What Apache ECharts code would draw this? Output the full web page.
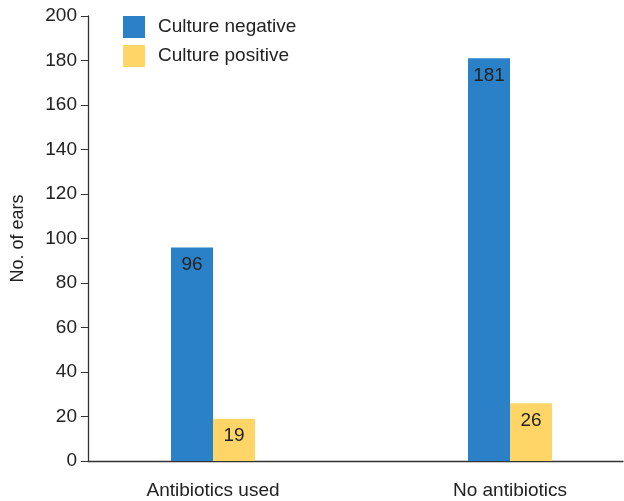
<!DOCTYPE html>
<html>
<head>
<meta charset="utf-8">
<script src="https://cdn.jsdelivr.net/npm/echarts@6/dist/echarts.min.js"></script>
<style>
  html, body { margin: 0; padding: 0; background: #fff; }
  #chart { width: 624px; height: 501px; }
</style>
</head>
<body>
<div id="chart"></div>
<script>
var categories = ["Antibiotics used", "No antibiotics"];
var cultureNegative = [96, 181];
var culturePositive = [19, 26];
var yTicks = [0, 20, 40, 60, 80, 100, 120, 140, 160, 180, 200];

(function drawChart() {
  var chart = echarts.init(document.getElementById("chart"));
  var font = "Liberation Sans, Arial, sans-serif";
  var ink = "#222";

  function barSeries(name, values, color) {
    return {
      name: name,
      type: "bar",
      xAxisIndex: 1,
      yAxisIndex: 1,
      data: values,
      barWidth: 42,
      barGap: "0%",
      itemStyle: { color: color },
      label: {
        show: true,
        position: "insideTop",
        distance: 8,
        color: ink,
        fontFamily: font,
        fontSize: 19
      }
    };
  }

  chart.setOption({
    animation: false,
    textStyle: { fontFamily: font },
    legend: {
      orient: "vertical",
      left: 118,
      top: 11,
      itemWidth: 22,
      itemHeight: 22,
      itemGap: 7,
      icon: "rect",
      textStyle: { color: ink, fontSize: 19, fontFamily: font, padding: [0, 0, 0, 8] },
      data: ["Culture negative", "Culture positive"]
    },
    grid: [
      // axes frame
      { left: 88, right: 1, top: 16, bottom: 40, outerBoundsMode: "none" },
      // bar placement
      { left: 64.5, width: 594, top: 16, bottom: 40, outerBoundsMode: "none" }
    ],
    xAxis: [
      {
        type: "category",
        gridIndex: 0,
        data: categories,
        axisLine: { lineStyle: { color: "#333", width: 1.3 } },
        axisTick: { show: false },
        axisLabel: { show: false }
      },
      {
        type: "category",
        gridIndex: 1,
        data: categories,
        axisLine: { show: false },
        axisTick: { show: false },
        axisLabel: { color: ink, fontSize: 19, margin: 20, fontFamily: font }
      }
    ],
    yAxis: [
      {
        type: "value",
        gridIndex: 0,
        min: yTicks[0],
        max: yTicks[yTicks.length - 1],
        interval: 20,
        name: "No. of ears",
        nameLocation: "middle",
        nameGap: 61,
        nameTextStyle: { color: ink, fontSize: 18, fontFamily: font },
        axisLine: { show: true, lineStyle: { color: "#333", width: 1.3 } },
        axisTick: { show: true, length: 7, lineStyle: { color: "#333" } },
        axisLabel: { color: ink, fontSize: 19, margin: 11, fontFamily: font },
        splitLine: { show: false }
      },
      {
        type: "value",
        gridIndex: 1,
        min: 0,
        max: 200,
        show: false
      }
    ],
    series: [
      barSeries("Culture negative", cultureNegative, "#2a81c8"),
      barSeries("Culture positive", culturePositive, "#fed566")
    ]
  });
})();
</script>
</body>
</html>
